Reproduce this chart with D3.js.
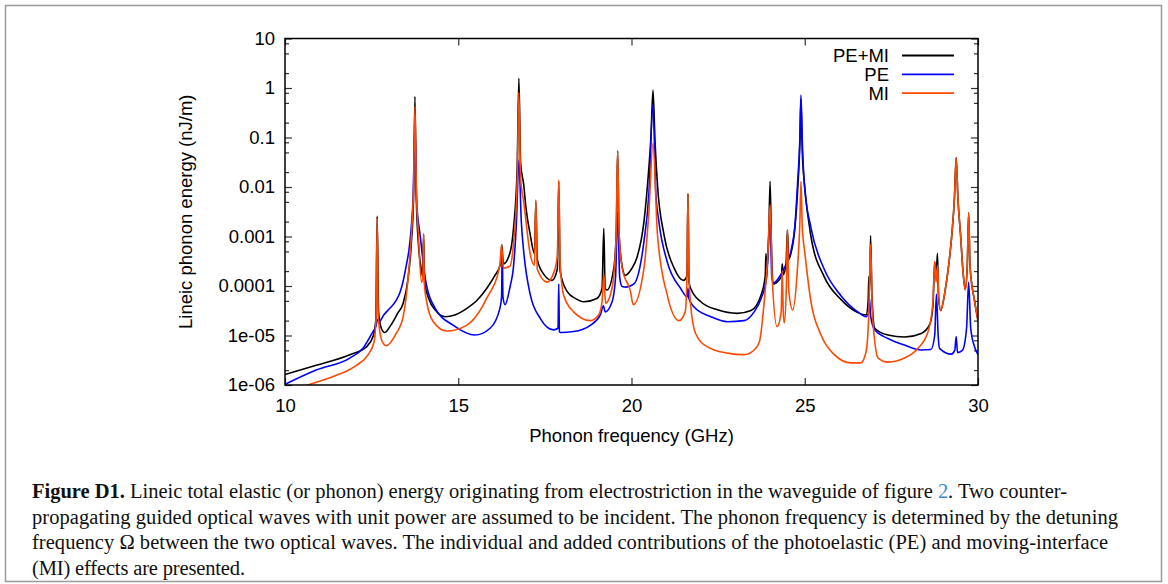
<!DOCTYPE html>
<html>
<head>
<meta charset="utf-8">
<script src="https://cdn.jsdelivr.net/npm/d3@7"></script>
<style>
  body { margin: 0; background: #fff; }
  svg { display: block; }
  .axis text { font-family: "Liberation Sans", Arial, sans-serif; font-size: 18.5px; fill: #000; }
  .axis line { stroke: #333; stroke-width: 1.2px; }
  .axis path { display: none; }
  .label, .legend text { font-family: "Liberation Sans", Arial, sans-serif; font-size: 18.5px; fill: #000; }
  .caption { font-family: "Liberation Serif", "Times New Roman", serif; font-size: 20.5px; fill: #111; }
</style>
</head>
<body>
<script>
/***** Data *****/
var xTickValues = [10, 15, 20, 25, 30];
var yTickValues = [1e-6, 1e-5, 1e-4, 1e-3, 1e-2, 1e-1, 1, 10];
var yTickLabels = ["1e-06", "1e-05", "0.0001", "0.001", "0.01", "0.1", "1", "10"];
var seriesNames = ["PE+MI", "PE", "MI"];

// [frequency (GHz), energy (nJ/m)]
var peMiData = [
  [10.0, 1.63e-6], [10.9, 2.5e-6], [11.87, 4.1e-6], [12.35, 5.9e-6], [12.54, 9.5e-6],
  [12.62, 2.0e-5], [12.66, 2.6e-3], [12.70, 3.0e-5], [12.78, 1.4e-5], [12.88, 1.15e-5],
  [13.05, 1.6e-5], [13.25, 2.8e-5], [13.41, 4.5e-5], [13.55, 1.4e-4], [13.65, 8e-4],
  [13.71, 6e-3], [13.75, 0.67], [13.79, 6e-3], [13.85, 7e-4], [13.92, 2.5e-4],
  [13.97, 1.6e-4], [14.0, 1.1e-3], [14.03, 1.2e-4], [14.15, 5.5e-5], [14.35, 3.2e-5],
  [14.62, 2.4e-5], [14.9, 2.6e-5], [15.24, 3.5e-5], [15.55, 5.2e-5], [15.82, 8.9e-5],
  [16.05, 1.6e-4], [16.22, 2.8e-4], [16.26, 6.8e-4], [16.3, 2.8e-4], [16.49, 4.6e-4],
  [16.6, 1.6e-3], [16.7, 0.024], [16.75, 1.57], [16.8, 0.03], [16.89, 0.011],
  [16.95, 4e-3], [17.08, 1.07e-3], [17.2, 4.5e-4], [17.24, 5.0e-3], [17.28, 3.5e-4],
  [17.45, 1.8e-4], [17.71, 1.3e-4], [17.86, 2.2e-4], [17.9, 0.013], [17.94, 2e-4],
  [18.14, 7.8e-5], [18.4, 5.5e-5], [18.62, 4.8e-5], [19.0, 5.6e-5], [19.15, 8.9e-5],
  [19.2, 1.47e-3], [19.24, 9e-5], [19.29, 8.3e-5], [19.49, 2.3e-4], [19.56, 1.2e-3],
  [19.6, 0.054], [19.64, 1.2e-3], [19.73, 2.5e-4], [19.82, 1.65e-4], [20.0, 2.2e-4],
  [20.16, 3.8e-4], [20.36, 2e-3], [20.5, 0.024], [20.56, 0.1], [20.62, 0.91],
  [20.68, 0.08], [20.75, 0.011], [20.94, 1.07e-3], [21.23, 2.3e-4], [21.5, 1.3e-4],
  [21.6, 1.6e-4], [21.63, 7.4e-3], [21.66, 1.2e-4], [21.71, 8.9e-5], [22.0, 4.8e-5],
  [22.48, 3.3e-5], [23.05, 2.8e-5], [23.45, 3.2e-5], [23.74, 6.6e-5], [23.86, 1.6e-4],
  [23.88, 4.5e-4], [23.91, 2.2e-4], [23.96, 1e-3], [24.0, 0.013], [24.04, 6e-4],
  [24.1, 1.1e-4], [24.25, 1.3e-4], [24.33, 1.6e-4], [24.35, 2.8e-4], [24.38, 1.7e-4],
  [24.46, 2.8e-4], [24.5, 1.35e-3], [24.54, 3.5e-4], [24.6, 4.5e-4], [24.72, 1.6e-3],
  [24.8, 0.01], [24.86, 0.08], [24.89, 0.6], [24.93, 0.05], [25.0, 0.01],
  [25.18, 1e-3], [25.56, 1.55e-4], [26.05, 5.3e-5], [26.53, 2.9e-5], [26.77, 2.6e-5],
  [26.83, 5e-5], [26.85, 1.55e-4], [26.87, 8e-5], [26.9, 1.03e-3], [26.94, 6e-5],
  [27.02, 1.4e-5], [27.4, 1.02e-5], [27.88, 9.3e-6], [28.36, 1.1e-5], [28.61, 1.7e-5],
  [28.7, 4e-5], [28.75, 3.1e-4], [28.79, 1.5e-4], [28.83, 4.6e-4], [28.86, 6e-5],
  [28.92, 3.2e-5], [29.05, 8e-5], [29.15, 2.5e-4], [29.25, 1.2e-3], [29.32, 6e-3],
  [29.37, 0.039], [29.42, 6e-3], [29.5, 1e-3], [29.56, 2.3e-4], [29.63, 8.5e-5],
  [29.69, 2.5e-4], [29.73, 3e-3], [29.77, 2.5e-4], [29.9, 5e-5], [30.0, 2e-5]
];

var peData = [
  [10.0, 1.03e-6], [10.9, 2.0e-6], [11.87, 3.5e-6], [12.25, 5.5e-6], [12.54, 1.2e-5],
  [12.62, 1.5e-5], [12.67, 2.1e-5], [12.72, 1.9e-5], [12.85, 2.6e-5], [13.02, 3.5e-5],
  [13.2, 5e-5], [13.32, 7.5e-5], [13.41, 1.25e-4], [13.5, 2.6e-4], [13.58, 5.5e-4],
  [13.64, 1.4e-3], [13.7, 7e-3], [13.75, 0.18], [13.8, 5e-3], [13.9, 1.07e-3],
  [14.05, 1.4e-4], [14.34, 3.5e-5], [14.86, 1.6e-5], [15.48, 1.02e-5], [15.92, 1.4e-5],
  [16.2, 3.5e-5], [16.25, 6e-5], [16.27, 5.1e-4], [16.29, 6e-5], [16.35, 4.2e-5],
  [16.5, 1e-4], [16.59, 2.3e-4], [16.68, 2e-3], [16.75, 0.035], [16.82, 2e-3],
  [16.89, 4.9e-4], [17.08, 6.6e-5], [17.37, 2.2e-5], [17.75, 1.3e-5], [17.88, 1.4e-5],
  [17.9, 1.1e-4], [17.92, 1.2e-5], [17.95, 1.15e-5], [18.33, 1.2e-5], [18.81, 1.6e-5],
  [19.1, 2.6e-5], [19.19, 4e-5], [19.24, 3e-5], [19.44, 4.8e-5], [19.54, 1.5e-4],
  [19.6, 3.1e-3], [19.66, 1.5e-4], [19.73, 9.8e-5], [19.85, 9.5e-5], [20.07, 1.1e-4],
  [20.36, 8e-4], [20.5, 7e-3], [20.62, 0.46], [20.7, 8e-3], [20.79, 2e-3],
  [21.03, 3.1e-4], [21.42, 8.9e-5], [21.61, 6e-5], [21.63, 9e-5], [21.66, 5.5e-5],
  [21.8, 3.8e-5], [22.29, 2.4e-5], [22.77, 1.9e-5], [23.25, 2e-5], [23.54, 3e-5],
  [23.74, 5.6e-5], [23.9, 1.5e-4], [24.0, 2.3e-3], [24.05, 1.5e-4], [24.1, 1.15e-4],
  [24.23, 1.4e-4], [24.41, 2.3e-4], [24.6, 5e-4], [24.72, 1.8e-3], [24.79, 0.011],
  [24.86, 0.1], [24.89, 0.72], [24.93, 0.08], [24.99, 0.011], [25.18, 1.5e-3],
  [25.56, 2.2e-4], [26.05, 6.3e-5], [26.53, 3e-5], [26.77, 2.4e-5], [26.85, 3e-5],
  [26.87, 5.6e-5], [26.9, 2.5e-5], [27.02, 1.3e-5], [27.4, 8.7e-6], [27.88, 6.4e-6],
  [28.36, 5.1e-6], [28.64, 5.2e-6], [28.75, 1e-5], [28.8, 6.8e-5], [28.85, 1e-5],
  [28.89, 5.5e-6], [29.23, 4.2e-6], [29.33, 5e-6], [29.37, 9.5e-6], [29.41, 4.5e-6],
  [29.55, 5e-6], [29.67, 1.4e-5], [29.73, 1.2e-4], [29.79, 1.4e-5], [29.9, 5.9e-6],
  [30.0, 4.1e-6]
];

var miData = [
  [10.0, 7e-7], [10.66, 1e-6], [11.39, 1.48e-6], [12.06, 2.5e-6], [12.4, 4.1e-6],
  [12.57, 7.4e-6], [12.63, 2.5e-5], [12.66, 2.3e-3], [12.69, 2.5e-5], [12.79, 8e-6],
  [12.92, 6.2e-6], [13.21, 1.1e-5], [13.41, 2.4e-5], [13.56, 1.65e-4], [13.66, 1.5e-3],
  [13.71, 0.01], [13.75, 0.42], [13.79, 0.01], [13.85, 1.07e-3], [13.94, 1.2e-4],
  [13.98, 1.5e-4], [14.0, 1.15e-3], [14.02, 1.2e-4], [14.09, 4.8e-5], [14.28, 1.9e-5],
  [14.67, 1.23e-5], [15.24, 1.6e-5], [15.82, 5.6e-5], [16.2, 2.6e-4], [16.25, 6.8e-4],
  [16.3, 2.3e-4], [16.49, 2.5e-4], [16.6, 8e-4], [16.7, 0.012], [16.75, 0.82],
  [16.8, 0.015], [16.89, 5e-3], [17.08, 4.3e-4], [17.2, 2.6e-4], [17.24, 5.5e-3],
  [17.28, 2.2e-4], [17.56, 1.2e-4], [17.75, 1.8e-4], [17.86, 4e-4], [17.9, 0.0138],
  [17.94, 3e-4], [18.04, 6.6e-5], [18.33, 3e-5], [18.81, 2e-5], [19.05, 2.6e-5],
  [19.15, 4.8e-5], [19.2, 1.8e-4], [19.25, 4.5e-5], [19.4, 7e-5], [19.5, 2e-4],
  [19.56, 1.3e-3], [19.6, 0.054], [19.64, 1.3e-3], [19.73, 2.3e-4], [19.97, 7.8e-5],
  [20.05, 4.2e-5], [20.36, 2.3e-4], [20.5, 3e-3], [20.62, 0.076], [20.75, 1.07e-3],
  [21.03, 6.6e-5], [21.37, 2e-5], [21.55, 3e-5], [21.6, 1.5e-4], [21.63, 7.4e-3],
  [21.66, 1.5e-4], [21.71, 4e-5], [21.85, 1.1e-5], [22.19, 5.9e-6], [22.77, 4.4e-6],
  [23.25, 4.1e-6], [23.54, 5.1e-6], [23.69, 7.4e-6], [23.83, 4.8e-5], [23.94, 5e-4],
  [24.0, 4.4e-3], [24.06, 1.5e-4], [24.2, 1.5e-5], [24.32, 3e-5], [24.35, 2e-4],
  [24.38, 3e-5], [24.41, 1.8e-5], [24.47, 1e-4], [24.5, 1.35e-3], [24.54, 8e-5],
  [24.65, 3.3e-5], [24.79, 2.3e-4], [24.86, 2e-3], [24.89, 0.013], [24.93, 1.5e-3],
  [25.0, 4.9e-4], [25.18, 4.8e-5], [25.47, 1.02e-5], [25.85, 4.1e-6], [26.33, 2.8e-6],
  [26.62, 2.8e-6], [26.77, 4.7e-6], [26.85, 3e-5], [26.9, 7e-4], [26.95, 3e-5],
  [27.12, 3.5e-6], [27.4, 2.9e-6], [27.88, 3.5e-6], [28.27, 5.5e-6], [28.56, 1.2e-5],
  [28.7, 4.8e-5], [28.75, 3.1e-4], [28.79, 1.2e-4], [28.83, 2.6e-4], [28.87, 6e-5],
  [28.92, 3.2e-5], [29.05, 8e-5], [29.15, 2.5e-4], [29.25, 1.2e-3], [29.32, 6e-3],
  [29.37, 0.039], [29.42, 6e-3], [29.5, 1e-3], [29.56, 2.3e-4], [29.63, 8.3e-5],
  [29.69, 2.5e-4], [29.73, 3e-3], [29.77, 2.5e-4], [29.9, 5e-5], [30.0, 2e-5]
];

var captionLines = [
  ["Figure D1.", " Lineic total elastic (or phonon) energy originating from electrostriction in the waveguide of figure ", "2", ". Two counter-"],
  ["propagating guided optical waves with unit power are assumed to be incident. The phonon frequency is determined by the detuning"],
  ["frequency \u03A9 between the two optical waves. The individual and added contributions of the photoelastic (PE) and moving-interface"],
  ["(MI) effects are presented."]
];

(function (d3) {
  "use strict";

  /***** Configuration *****/
  var margin = { top: 38.5, right: 190, bottom: 199, left: 285 };
  var width = 1168 - margin.left - margin.right;
  var height = 584 - margin.top - margin.bottom;

  /***** Scales *****/
  var x = d3.scaleLinear().domain([10, 30]).range([0, width]);
  var y = d3.scaleLog().domain([1e-6, 10]).range([height, 0]);
  var color = d3.scaleOrdinal().domain(seriesNames).range(["#000000", "#0000ff", "#ff4800"]);

  var minorTicks = [];
  d3.range(-6, 1).forEach(function (k) {
    [2, 5, 8].forEach(function (m) { minorTicks.push(m * Math.pow(10, k)); });
  });

  var svg = d3.select("body").append("svg")
    .attr("width", 1168)
    .attr("height", 584);

  // figure frame
  svg.append("rect")
    .attr("x", 5.5).attr("y", 5.5)
    .attr("width", 1156).attr("height", 576)
    .attr("fill", "none")
    .attr("stroke", "#9a9a9a")
    .attr("stroke-width", 1.5);

  var g = svg.append("g")
    .attr("transform", "translate(" + margin.left + "," + margin.top + ")");

  /***** Axes (gnuplot style, ticks inward on all sides) *****/
  g.append("g").attr("class", "axis")
    .attr("transform", "translate(0," + height + ")")
    .call(d3.axisBottom(x).tickValues(xTickValues).tickSize(-7).tickPadding(13.5).tickFormat(d3.format("d")));
  g.append("g").attr("class", "axis")
    .call(d3.axisTop(x).tickValues(xTickValues).tickSize(-7).tickFormat(""));

  g.append("g").attr("class", "axis")
    .call(d3.axisLeft(y).tickValues(yTickValues).tickSize(-7).tickPadding(10)
      .tickFormat(function (d, i) { return yTickLabels[i]; }));
  g.append("g").attr("class", "axis")
    .call(d3.axisLeft(y).tickValues(minorTicks).tickSize(-4).tickFormat(""));
  g.append("g").attr("class", "axis")
    .attr("transform", "translate(" + width + ",0)")
    .call(d3.axisRight(y).tickValues(yTickValues).tickSize(-7).tickFormat(""));
  g.append("g").attr("class", "axis")
    .attr("transform", "translate(" + width + ",0)")
    .call(d3.axisRight(y).tickValues(minorTicks).tickSize(-4).tickFormat(""));

  /***** Curves *****/
  g.append("clipPath").attr("id", "plot-clip")
    .append("rect").attr("width", width).attr("height", height);

  var line = d3.line()
    .x(function (d) { return x(d[0]); })
    .y(function (d) { return y(d[1]); })
    .curve(d3.curveMonotoneX);

  var series = [peMiData, peData, miData];
  g.append("g").attr("clip-path", "url(#plot-clip)")
    .selectAll("path")
    .data(series)
    .enter().append("path")
    .attr("d", line)
    .attr("fill", "none")
    .attr("stroke", function (d, i) { return color(seriesNames[i]); })
    .attr("stroke-width", 1.6)
    .attr("stroke-linejoin", "round");

  // plot border
  g.append("rect")
    .attr("width", width).attr("height", height)
    .attr("fill", "none")
    .attr("stroke", "#000")
    .attr("stroke-width", 1.5);

  /***** Legend *****/
  var legend = g.append("g").attr("class", "legend")
    .selectAll("g")
    .data(seriesNames)
    .enter().append("g")
    .attr("transform", function (d, i) { return "translate(0," + (17 + i * 18.8) + ")"; });
  legend.append("text")
    .attr("x", 604)
    .attr("y", 6.5)
    .attr("text-anchor", "end")
    .text(function (d) { return d; });
  legend.append("line")
    .attr("x1", 617).attr("x2", 669)
    .attr("stroke", function (d) { return color(d); })
    .attr("stroke-width", 1.8);

  /***** Axis titles *****/
  g.append("text").attr("class", "label")
    .attr("x", width / 2)
    .attr("y", height + 57)
    .attr("text-anchor", "middle")
    .text("Phonon frequency (GHz)");
  g.append("text").attr("class", "label")
    .attr("transform", "translate(-93," + (height / 2) + ") rotate(-90)")
    .attr("text-anchor", "middle")
    .text("Lineic phonon energy (nJ/m)");

  /***** Caption *****/
  var lineWidths = [1035, 1086, 1076, 213];
  var caption = svg.append("g");
  captionLines.forEach(function (parts, i) {
    var t = caption.append("text")
      .attr("class", "caption")
      .attr("x", 32)
      .attr("y", 498 + i * 25.7)
      .attr("textLength", lineWidths[i])
      .attr("lengthAdjust", "spacing");
    parts.forEach(function (p, j) {
      var s = t.append("tspan").text(p);
      if (i === 0 && j === 0) s.attr("font-weight", "bold");
      if (i === 0 && j === 2) s.attr("fill", "#3a8cc8");
    });
  });

})(d3);
</script>
</body>
</html>
